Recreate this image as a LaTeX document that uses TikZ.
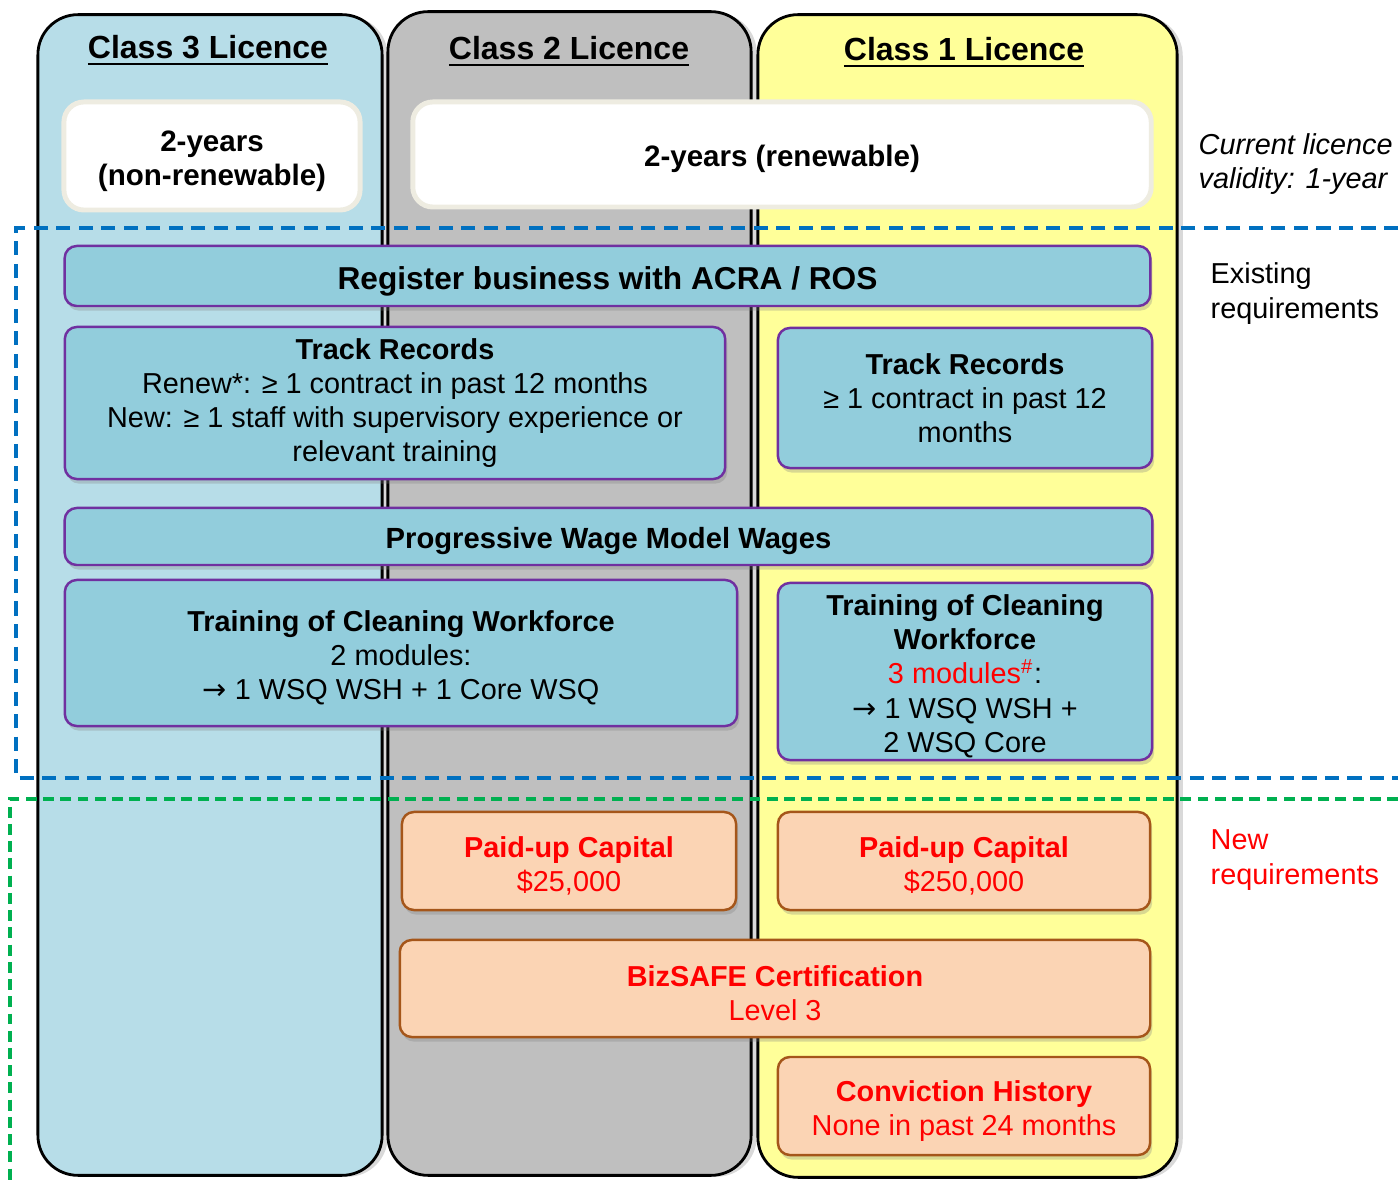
\documentclass[tikz,border=0pt]{standalone}
\usepackage{fontspec}
\setmainfont{Liberation Sans}
\newfontfamily\arrowfont{DejaVu Sans}
\usetikzlibrary{shadows}
\definecolor{licblue}{HTML}{B7DDE8}
\definecolor{licgrey}{HTML}{BFBFBF}
\definecolor{licyellow}{HTML}{FFFF99}
\definecolor{reqblue}{HTML}{92CDDC}
\definecolor{reqpurple}{HTML}{7030A0}
\definecolor{newpeach}{HTML}{FBD4B4}
\definecolor{newbrown}{HTML}{A5561A}
\definecolor{cream}{HTML}{EEECE1}
\definecolor{dashblue}{HTML}{0070C0}
\definecolor{dashgreen}{HTML}{00B050}
\newcommand\boxstrut{\rule{0pt}{1.05em}}
\newcommand\toarrow{{\arrowfont →}}
\begin{document}
\begin{tikzpicture}[x=0.01cm,y=-0.01cm,
  licence/.style={draw=black, line width=0.8pt, rounded corners=0.4cm, inner sep=0pt,
    drop shadow={shadow xshift=1.6pt, shadow yshift=-0.4pt, opacity=0.3}},
  lictitle/.style={inner sep=0pt, font=\fontsize{9.1}{11}\selectfont\bfseries},
  valbox/.style={draw=cream, line width=1.4pt, fill=white, rounded corners=0.2cm, align=center,
    inner sep=0pt, font=\fontsize{8.4}{9.8}\selectfont\bfseries, execute at begin node=\boxstrut},
  reqbox/.style={draw=reqpurple, line width=0.7pt, fill=reqblue, rounded corners=0.12cm, align=center,
    inner sep=0pt, font=\fontsize{8.2}{9.7}\selectfont, execute at begin node=\boxstrut,
    drop shadow={shadow xshift=0.6pt, shadow yshift=-1.3pt, opacity=0.3}},
  newbox/.style={draw=newbrown, line width=0.7pt, fill=newpeach, rounded corners=0.12cm, align=center,
    inner sep=0pt, text=red, font=\fontsize{8.2}{9.7}\selectfont, execute at begin node=\boxstrut,
    drop shadow={shadow xshift=0.6pt, shadow yshift=-1.3pt, opacity=0.3}},
  sidenote/.style={anchor=west, align=left, inner sep=0pt, font=\fontsize{8.2}{9.9}\selectfont}]
\useasboundingbox (0,0) rectangle (1398,1180);
\node[licence, fill=licblue, minimum width=3.44cm, minimum height=11.60cm] (col3) at (210,595){};
\node[licence, fill=licgrey, minimum width=3.63cm, minimum height=11.63cm] (col2) at (569.5,593.5){};
\node[licence, fill=licyellow, minimum width=4.19cm, minimum height=11.62cm] (col1) at (967.5,596){};
\node[lictitle] (t3) at (208,51){\underline{Class 3 Licence}};
\node[lictitle] (t2) at (569,52){\underline{Class 2 Licence}};
\node[lictitle] (t1) at (964,53){\underline{Class 1 Licence}};
\node[valbox, minimum width=2.96cm, minimum height=1.08cm] (val3) at (212,156){\boxstrut 2-years\\(non-renewable)};
\node[valbox, minimum width=7.38cm, minimum height=1.05cm] (val12) at (782,154.5){2-years (renewable)};
\draw[dashblue, line width=1.1pt, dash pattern=on 4pt off 2.4pt] (1398,228) -- (16,228) -- (16,778) -- (1398,778);
\draw[dashgreen, line width=1.1pt, dash pattern=on 3.1pt off 1.8pt] (1398,799) -- (10,799) -- (10,1185);
\node[reqbox, minimum width=10.85cm, minimum height=0.60cm, font=\fontsize{9}{11}\selectfont\bfseries] (reg) at (607.5,276){Register business with ACRA / ROS};
\node[reqbox, minimum width=6.60cm, minimum height=1.52cm] (trk3) at (395,403){\textbf{Track Records}\\Renew*: ≥ 1 contract in past 12 months\\New: ≥ 1 staff with supervisory experience or\\relevant training};
\node[reqbox, minimum width=3.74cm, minimum height=1.40cm] (trk1) at (965,398){\textbf{Track Records}\\≥ 1 contract in past 12\\months};
\node[reqbox, minimum width=10.87cm, minimum height=0.57cm, font=\fontsize{8.3}{10}\selectfont\bfseries] (pwm) at (608.5,536.5){Progressive Wage Model Wages};
\node[reqbox, minimum width=6.72cm, minimum height=1.46cm] (trn3) at (401,653){\boxstrut\textbf{Training of Cleaning Workforce}\\2 modules:\\\toarrow{} 1 WSQ WSH + 1 Core WSQ};
\node[reqbox, minimum width=3.74cm, minimum height=1.77cm] (trn1) at (965,671.5){\boxstrut\textbf{Training of Cleaning}\\\textbf{Workforce}\\\textcolor{red}{3 modules\textsuperscript{\#}}:\\\toarrow{} 1 WSQ WSH +\\2 WSQ Core};
\node[newbox, minimum width=3.34cm, minimum height=0.98cm] (cap2) at (569,861){\boxstrut\textbf{Paid-up Capital}\\\$25,000};
\node[newbox, minimum width=3.72cm, minimum height=0.98cm] (cap1) at (964,861){\boxstrut\textbf{Paid-up Capital}\\\$250,000};
\node[newbox, minimum width=7.50cm, minimum height=0.97cm] (biz) at (775,988.5){\boxstrut\textbf{BizSAFE Certification}\\Level 3};
\node[newbox, minimum width=3.72cm, minimum height=0.98cm] (conv) at (964,1106){\boxstrut\textbf{Conviction History}\\None in past 24 months};
\node[sidenote, font=\fontsize{8.2}{9.9}\selectfont\itshape] (valnote) at (1198,164){Current licence\\validity: 1-year};
\node[sidenote] (oldnote) at (1210,293.5){Existing\\requirements};
\node[sidenote, text=red] (newnote) at (1210,860){New\\requirements};
\end{tikzpicture}
\end{document}
